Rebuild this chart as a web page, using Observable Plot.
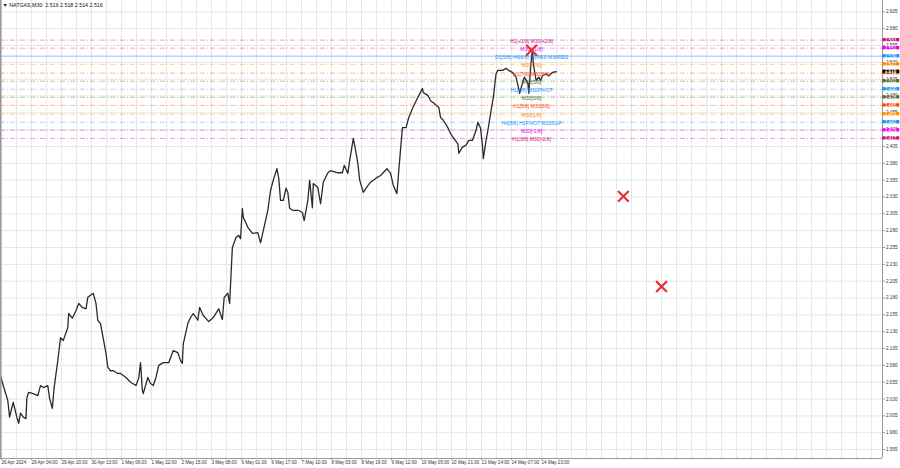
<!DOCTYPE html>
<html><head><meta charset="utf-8">
<script src="https://cdn.jsdelivr.net/npm/d3@7"></script>
<script src="https://cdn.jsdelivr.net/npm/@observablehq/plot@0.6"></script>
<style>
html,body{margin:0;padding:0;background:#fff;overflow:hidden;}
#chart{width:900px;height:468px;}
svg{display:block;}
</style></head><body><div id="chart"></div>
<script>
// ---- data ----
const symbolName = "NATGAS,M30";
const lastOHLC = [2.516, 2.518, 2.514, 2.516];
const lastPrice = 2.516;

// bar index (30-min bars, weekends removed) and price
const bars = [0,3,8,10,13,14,18,20,22,25,28,29,31,36,41,44,47,52,54,57,59,63,66,69,74,75,79,83,86,90,94,96,99,102,105,107,110,112,116,118,121,124,129,132,138,143,149,152,154,156,157,162,165,168,171,174,179,185,190,195,198,200,201,206,209,212,217,219,223,229,234,240,244,246,250,252,254,255,259,262,264,266,267,272,277,283,286,289,294,297,300,304,306,308,311,314,316,318,322,328,332,334,338,340,343,344,349,352,355,360,363,371,376,378,382,384,388,391,393,395,399,404,407,413,418,425,429,432,436,438,442,446,449,453,459,464,465,470,473,476,482,484,487,492,495,498,503,504,508,512,515,519,523,525,528,530,531,534,536,539,542,545,547,552,556,559,563,567,569,571,574,576,580,581,583,585,586,589,592,594,596,600,603,607,611];
const prices = [2.065,2.050,2.028,2.003,2.020,2.025,2.003,1.994,2.009,2.003,2.001,2.032,2.040,2.038,2.035,2.050,2.047,2.050,2.031,2.016,2.047,2.087,2.121,2.117,2.136,2.157,2.150,2.161,2.172,2.166,2.164,2.181,2.184,2.187,2.172,2.147,2.142,2.127,2.098,2.077,2.072,2.072,2.068,2.068,2.062,2.055,2.050,2.061,2.084,2.043,2.038,2.062,2.053,2.050,2.062,2.080,2.084,2.084,2.102,2.099,2.087,2.083,2.112,2.142,2.151,2.157,2.147,2.166,2.154,2.145,2.151,2.164,2.148,2.181,2.187,2.172,2.228,2.255,2.270,2.273,2.268,2.313,2.300,2.285,2.276,2.277,2.262,2.280,2.310,2.340,2.355,2.372,2.358,2.325,2.325,2.343,2.337,2.313,2.310,2.310,2.307,2.295,2.325,2.355,2.314,2.350,2.344,2.320,2.352,2.366,2.369,2.366,2.366,2.377,2.365,2.384,2.417,2.396,2.380,2.355,2.337,2.347,2.352,2.358,2.362,2.372,2.365,2.347,2.335,2.369,2.433,2.433,2.448,2.461,2.478,2.491,2.485,2.481,2.473,2.470,2.463,2.448,2.444,2.433,2.424,2.418,2.409,2.395,2.404,2.407,2.414,2.414,2.429,2.441,2.432,2.407,2.387,2.414,2.429,2.454,2.478,2.513,2.518,2.518,2.521,2.518,2.515,2.508,2.496,2.484,2.499,2.508,2.499,2.484,2.522,2.549,2.528,2.503,2.508,2.503,2.510,2.513,2.510,2.515,2.516];

// Murrey math levels
const levelPrices = [2.563,2.551,2.539,2.527,2.514,2.502,2.490,2.478,2.466,2.453,2.441,2.429,2.417];
const levelLabels = ["H1[+1/8] M30[+2/8]","M30[+1/8]","D1[5/8] H4[6/8] H1RES M30RES","M30[7/8]","H1[7/8] M30[6/8]","M30[5/8]","H1[6/8] M30PIVOT","M30[3/8]","H1[5/8] M30[2/8]","M30[1/8]","H4[5/8] H1PIVOT M30SUP","M30[-1/8]","H1[3/8] M30[-2/8]"];
const levelKinds = ["pink","magenta","blue","orange","red","olive","blue","olive","red","orange","blue","magenta","pink"];

// target crosses
const crossBars = [584, 685, 727];
const crossPrices = [2.548, 2.331, 2.197];

// axis ticks
const yTicks = [1.955,1.980,2.005,2.030,2.055,2.080,2.105,2.130,2.155,2.180,2.205,2.230,2.255,2.280,2.305,2.330,2.355,2.380,2.405,2.430,2.455,2.480,2.505,2.530,2.555,2.580,2.605];
const xLabels = ["26 Apr 2024","29 Apr 04:00","29 Apr 20:00","30 Apr 13:00","1 May 06:00","1 May 22:00","2 May 15:00","3 May 08:00","6 May 01:00","6 May 17:00","7 May 10:00","8 May 03:00","8 May 19:00","9 May 12:00","10 May 05:00","10 May 21:00","13 May 14:00","14 May 07:00","14 May 23:00"];

// ---- styles ----
const palette = {pink:"#C71585", magenta:"#EE00EE", blue:"#1E90FF", orange:"#FF8C00", red:"#FF4500", olive:"#556B2F"};
const labelBar = 584;
const xMax = 970;
const barsPerLabel = 33;

const series = bars.map((b,i)=>({bar:b, price:prices[i]}));
const levels = levelPrices.map((p,i)=>({price:p, label:levelLabels[i], color:palette[levelKinds[i]], kind:levelKinds[i]}));
const crosses = crossBars.map((b,i)=>({bar:b, price:crossPrices[i]}));
const xTickBars = xLabels.map((_,i)=>1 + i*barsPerLabel);
const labelMap = new Map(xTickBars.map((b,i)=>[b, xLabels[i]]));
const gridBars = d3.range(1, xMax, barsPerLabel/2);
const yMin = 1.94168, yMax = 2.62181;
const boxH = 0.0025;
const boxes = levels.map(d=>({...d, text:d3.format(".3f")(d.price)}));
boxes.push({price:lastPrice, text:d3.format(".3f")(lastPrice), color:"#000"});

const chart = Plot.plot({
  width: 900, height: 468,
  marginLeft: 0, marginRight: 18, marginTop: 0, marginBottom: 10,
  x: {domain:[0, xMax], axis:null},
  y: {domain:[yMin, yMax], axis:null},
  style: {fontFamily:"'Liberation Sans', Arial, sans-serif", fontSize:"4.6px", background:"#fff", overflow:"visible"},
  marks: [
    Plot.ruleX(gridBars, {stroke:"#e6e6e6", strokeWidth:1}),
    Plot.ruleY(yTicks, {stroke:"#e6e6e6", strokeWidth:1}),
    Plot.ruleY(levels.filter(d=>d.label.startsWith("D1")), {y:"price", stroke:"color", strokeOpacity:0.35, strokeWidth:1.6}),
    Plot.ruleY(levels.filter(d=>!d.label.startsWith("D1")), {y:"price", stroke:"color", strokeOpacity:0.4, strokeDasharray:"5,2,1,2"}),
    Plot.lineY(series, {x:"bar", y:"price", stroke:"#2a2a2a", strokeWidth:1.3}),
    Plot.text(levels, {x:()=>labelBar, y:"price", text:"label", fill:"color", fontSize:5, dy:1}),
    Plot.dot(crosses, {x:"bar", y:"price", symbol:"times", r:5, stroke:"#E8323A", strokeWidth:2.2}),
    // frame
    Plot.ruleX([0], {stroke:"#9a9a9a", strokeWidth:2}),
    Plot.ruleX([xMax], {stroke:"#9a9a9a", strokeWidth:1}),
    Plot.ruleY([yMin], {stroke:"#9a9a9a", strokeWidth:1}),
    // axes
    Plot.axisY(yTicks, {anchor:"right", label:null, tickFormat:d3.format(".3f"), tickSize:2, tickPadding:1.5, fill:"#333", stroke:"#9a9a9a", fontSize:4.6}),
    Plot.axisX(xTickBars, {anchor:"bottom", label:null, tickFormat:d=>labelMap.get(d), textAnchor:"start", tickSize:2, tickPadding:0.5, fill:"#333", stroke:"#9a9a9a", fontSize:4.6}),
    // price boxes
    Plot.rect(boxes, {x1:xMax + 0.5, x2:xMax + 19, y1:d=>d.price - boxH, y2:d=>d.price + boxH, fill:"color"}),
    Plot.text(boxes, {x:xMax + 2.5, y:"price", text:"text", fill:"#fff", textAnchor:"start", fontSize:4.6}),
    // title
    Plot.text([`\u25BC ${symbolName}  ${lastOHLC.map(d3.format(".3f")).join(" ")}`], {frameAnchor:"top-left", dx:2, dy:3, fill:"#111", fontSize:5.3, textAnchor:"start"})
  ]
});
document.getElementById("chart").appendChild(chart);
</script>
</body></html>
